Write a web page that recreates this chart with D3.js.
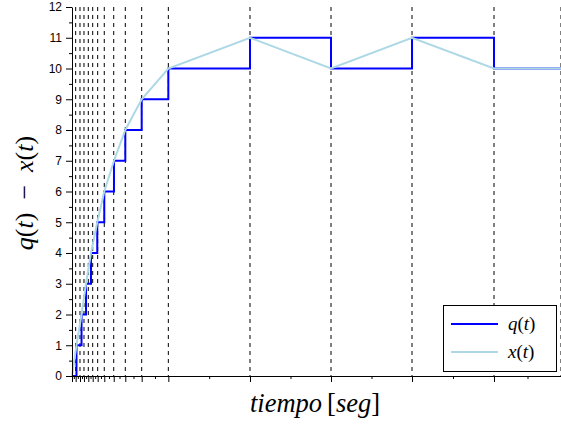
<!DOCTYPE html>
<html><head><meta charset="utf-8">
<script src="https://cdn.jsdelivr.net/npm/d3@7"></script>
<style>body{margin:0;background:#fff} svg{display:block}</style>
</head><body>
<script>
// Data (time in seconds, values in state units)
const qTimes  = [0, 0.055, 0.117, 0.172, 0.233, 0.310, 0.396, 0.515, 0.654, 0.855, 1.182, 2.184, 3.178, 4.172, 5.178, 6];
const qValues = [0, 1, 2, 3, 4, 5, 6, 7, 8, 9, 10, 11, 10, 11, 10, 10];
const xTimes  = [0, 0.055, 0.117, 0.172, 0.233, 0.310, 0.396, 0.515, 0.654, 0.855, 1.182, 2.184, 3.178, 4.172, 5.178, 6];
const xValues = [0, 1, 2, 3, 4, 5, 6, 7, 8, 9, 10, 11, 10, 11, 10, 10];
const gridTimes = [0.045, 0.098, 0.147, 0.2, 0.254, 0.315, 0.396, 0.512, 0.654, 0.855, 1.182, 2.184, 3.178, 4.172, 5.178, 6];
const xMajorTicks = [0, 0.045, 0.098, 0.147, 0.2, 0.254, 0.315, 0.396, 0.512, 0.654, 0.855, 1.182, 2.184, 3.178, 4.172, 5.178, 6];
const xMinorTicks = [0.0225, 0.0715, 0.1225, 0.1735, 0.227, 0.2845, 0.3555, 0.454, 0.583, 0.7545, 1.018, 1.683, 2.681, 3.675, 4.675, 5.589];
const yTicks = [0,1,2,3,4,5,6,7,8,9,10,11,12];
const yMinorTicks = [0.5,1.5,2.5,3.5,4.5,5.5,6.5,7.5,8.5,9.5,10.5,11.5];
const seriesNames = ["q(t)", "x(t)"];
const seriesColors = ["#0000ff", "#add8e6"];

const W = 561, H = 426;
const svg = d3.select("body").append("svg").attr("width", W).attr("height", H);

const x = d3.scaleLinear().domain([0, 6]).range([72, 561]);
const y = d3.scaleLinear().domain([0, 12]).range([376, 7]);

// dashed grid lines
svg.append("g").selectAll("line").data(gridTimes).join("line")
  .attr("x1", d => x(d)).attr("x2", d => x(d))
  .attr("y1", y(12)).attr("y2", y(0))
  .attr("stroke", "#000").attr("stroke-width", 1)
  .attr("stroke-dasharray", "4,4");

// q(t)
const qData = qTimes.map((t, i) => [t, qValues[i]]);
svg.append("path").datum(qData)
  .attr("fill", "none").attr("stroke", seriesColors[0]).attr("stroke-width", 2)
  .attr("d", d3.line().x(d => x(d[0])).y(d => y(d[1])).curve(d3.curveStepAfter));

// x(t)
const xData = xTimes.map((t, i) => [t, xValues[i]]);
svg.append("path").datum(xData)
  .attr("fill", "none").attr("stroke", seriesColors[1]).attr("stroke-width", 2)
  .attr("d", d3.line().x(d => x(d[0])).y(d => y(d[1])));

// axes
const fontAxis = "'Liberation Sans', Arial, sans-serif";
const gy = svg.append("g").attr("transform", `translate(${x(0)},0)`)
  .call(d3.axisLeft(y).tickValues(yTicks).tickSize(6).tickSizeOuter(0).tickPadding(4));
gy.selectAll("text").attr("font-family", fontAxis).attr("font-size", 12).attr("fill", "#000");
svg.append("g").attr("transform", `translate(${x(0)},0)`)
  .call(d3.axisLeft(y).tickValues(yMinorTicks).tickSize(3).tickSizeOuter(0).tickFormat(""))
  .select(".domain").remove();

svg.append("g").attr("transform", `translate(0,${y(0)})`)
  .call(d3.axisBottom(x).tickValues(xMajorTicks).tickSize(6).tickSizeOuter(0).tickFormat(""));
svg.append("g").attr("transform", `translate(0,${y(0)})`)
  .call(d3.axisBottom(x).tickValues(xMinorTicks).tickSize(3).tickSizeOuter(0).tickFormat(""))
  .select(".domain").remove();

svg.selectAll(".domain, .tick line").attr("stroke", "#000");

const serif = "'Liberation Serif', 'Times New Roman', serif";
// x label
const xl = svg.append("text").attr("x", 315).attr("y", 412).attr("text-anchor", "middle")
  .attr("font-family", serif).attr("font-size", 26.5);
xl.append("tspan").attr("font-style", "italic").text("tiempo");
xl.append("tspan").attr("dx", 5).text("[");
xl.append("tspan").attr("font-style", "italic").text("seg");
xl.append("tspan").text("]");

// y label
const yl = svg.append("text").attr("transform", "translate(33,193) rotate(-90)")
  .attr("text-anchor", "middle").attr("font-family", serif).attr("font-size", 26);
yl.append("tspan").attr("font-style", "italic").text("q");
yl.append("tspan").text("(");
yl.append("tspan").attr("font-style", "italic").text("t");
yl.append("tspan").text(")");
yl.append("tspan").attr("dx", 13).text("−");
yl.append("tspan").attr("dx", 13).attr("font-style", "italic").text("x");
yl.append("tspan").text("(");
yl.append("tspan").attr("font-style", "italic").text("t");
yl.append("tspan").text(")");

// legend
const lg = svg.append("g");
lg.append("rect").attr("x", 443.5).attr("y", 305.5).attr("width", 113).attr("height", 66)
  .attr("fill", "#fff").attr("stroke", "#000").attr("stroke-width", 1);
const legRows = [324, 352];
seriesNames.forEach((name, i) => {
  lg.append("line").attr("x1", 451).attr("x2", 498).attr("y1", legRows[i]).attr("y2", legRows[i])
    .attr("stroke", seriesColors[i]).attr("stroke-width", 2);
  const t = lg.append("text").attr("x", 508).attr("y", legRows[i] + 6)
    .attr("font-family", serif).attr("font-size", 19);
  t.append("tspan").attr("font-style", "italic").text(name[0]);
  t.append("tspan").text("(");
  t.append("tspan").attr("font-style", "italic").text("t");
  t.append("tspan").text(")");
});
</script>
</body></html>
